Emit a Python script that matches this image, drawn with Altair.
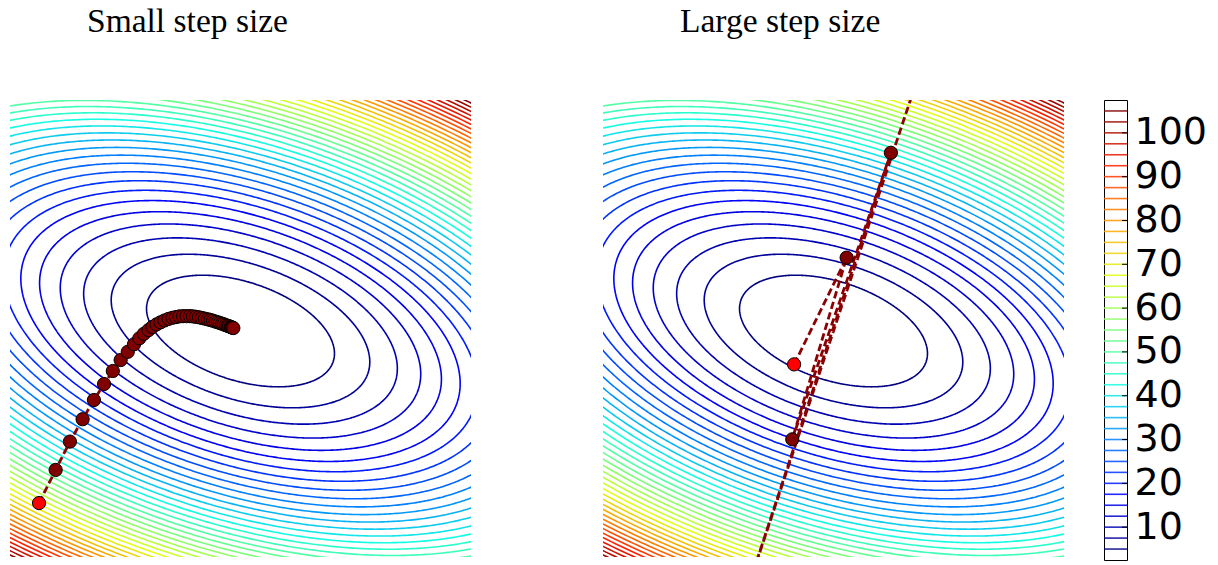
import numpy as np
import pandas as pd
import altair as alt

# ---- quadratic surface f(x, y) = f_min + a dx^2 + b dx dy + c dy^2
quad_a = 20.1
quad_b = 27.0
quad_c = 56.0
f_min = 2.2
centre = [0.0, -0.011]

# contour levels and colour-bar ticks
levels = list(np.arange(5.0, 105.01, 2.5))
cbar_ticks = [10, 20, 30, 40, 50, 60, 70, 80, 90, 100]
cbar_range = [2.5, 107.5]

# jet colour map stops (over the level range 5..105)
jet_domain = [5, 17.5, 30, 42.5, 55, 67.5, 80, 92.5, 105]
jet_colors = ["#000080", "#0000ff", "#0080ff", "#15ffe2", "#7bff7b",
              "#e2ff15", "#ff9700", "#ff2100", "#800000"]

# gradient-descent iterates, small step size (panel coords -1..1)
small_x = [-0.874, -0.802, -0.740, -0.685, -0.636, -0.592, -0.554, -0.520, -0.489, -0.462,
           -0.439, -0.419, -0.399, -0.382, -0.364, -0.347, -0.330, -0.312, -0.295, -0.280,
           -0.265, -0.249, -0.234, -0.219, -0.206, -0.193, -0.180, -0.167, -0.154, -0.141,
           -0.130, -0.119, -0.108, -0.098, -0.089, -0.080, -0.072, -0.063, -0.056, -0.050,
           -0.043, -0.039, -0.035, -0.031]
small_y = [-0.764, -0.619, -0.495, -0.397, -0.313, -0.243, -0.186, -0.138, -0.102, -0.069,
           -0.043, -0.023, -0.007, 0.007, 0.018, 0.027, 0.035, 0.042, 0.047, 0.050,
           0.053, 0.054, 0.054, 0.054, 0.053, 0.051, 0.049, 0.046, 0.043, 0.040,
           0.037, 0.034, 0.030, 0.027, 0.024, 0.021, 0.018, 0.014, 0.012, 0.010,
           0.007, 0.005, 0.004, 0.002]

# gradient-descent iterates, large step size (diverging; later ones leave the frame)
large_x = [-0.171, 0.057, -0.179, 0.249, -0.419, 0.679]
large_y = [-0.157, 0.310, -0.485, 0.769, -1.280, 2.046]

titles = ["Small step size", "Large step size"]

# ---- contour lines (ellipses of the quadratic)
A = np.array([[quad_a, quad_b / 2], [quad_b / 2, quad_c]])
w, V = np.linalg.eigh(A)
theta = np.linspace(0, 2 * np.pi, 721)
rows = []
for L in levels:
    q = L - f_min
    u = np.sqrt(q / w[0]) * np.cos(theta)
    v = np.sqrt(q / w[1]) * np.sin(theta)
    pts = V @ np.vstack([u, v])
    for i in range(len(theta)):
        rows.append((round(pts[0, i] + centre[0], 4), round(pts[1, i] + centre[1], 4), L, i))
contours = pd.DataFrame(rows, columns=["x", "y", "level", "i"])

xs = alt.Scale(domain=[-1, 1], nice=False, zero=False)
ys = alt.Scale(domain=[-1, 1], nice=False, zero=False)
cscale = alt.Scale(domain=jet_domain, range=jet_colors, interpolate="rgb")

title_font = dict(font="Liberation Serif", fontSize=33.5, fontWeight="normal",
                  color="black", anchor="start", dx=77, offset=61)


def panel(px, py, title):
    path = pd.DataFrame({"x": px, "y": py, "step": list(range(len(px)))})
    X = alt.X("x:Q", scale=xs, axis=None)
    Y = alt.Y("y:Q", scale=ys, axis=None)
    cont = alt.Chart(contours).mark_line(clip=True, strokeWidth=1.6).encode(
        x=X, y=Y,
        color=alt.Color("level:Q", scale=cscale, legend=None),
        detail="level:N", order="i:Q")
    line = alt.Chart(path).mark_line(clip=True, color="#8b0000", strokeWidth=2.8,
                                     strokeDash=[7.4, 3.6]).encode(x=X, y=Y, order="step:Q")
    dots = alt.Chart(path[path.step > 0]).mark_circle(
        clip=True, size=175, fill="#800000", stroke="black", strokeWidth=1, opacity=1
    ).encode(x=X, y=Y)
    start = alt.Chart(path[path.step == 0]).mark_circle(
        clip=True, size=175, fill="#ff0000", stroke="black", strokeWidth=1, opacity=1
    ).encode(x=X, y=Y)
    return alt.layer(cont, line, dots, start).properties(
        width=461, height=457, title=alt.TitleParams(title, **title_font))


left = panel(small_x, small_y, titles[0])
right = panel(large_x, large_y, titles[1])

lev_df = pd.DataFrame({"level": levels})
tick_df = pd.DataFrame({"level": cbar_ticks})
cb_y = alt.Scale(domain=cbar_range, nice=False, zero=False)
cb_lines = alt.Chart(lev_df).mark_rule(strokeWidth=1.6, opacity=0.85).encode(
    y=alt.Y("level:Q", scale=cb_y,
            axis=alt.Axis(orient="right", values=cbar_ticks, labelFontSize=38,
                          labelFont="DejaVu Sans", labelColor="black", domain=False,
                          ticks=False, grid=False, labelPadding=7, title=None)),
    color=alt.Color("level:Q", scale=cscale, legend=None))
cb_ticks = alt.Chart(tick_df).mark_rule(color="black", strokeWidth=1).encode(
    y=alt.Y("level:Q", scale=cb_y), x=alt.value(18), x2=alt.value(23))
colorbar = alt.layer(cb_lines, cb_ticks).properties(
    width=23, height=460,
    view=alt.ViewBackground(stroke="black", strokeWidth=1),
    title=alt.TitleParams(" ", **title_font))

chart = alt.hconcat(
    alt.hconcat(left, right, spacing=132),
    colorbar, spacing=38
).properties(
    padding={"left": 10, "top": 4, "right": 0, "bottom": 0},
    background="white"
).configure_view(strokeWidth=0)

chart.save("out.html", embed_options={"renderer": "svg", "actions": False})
